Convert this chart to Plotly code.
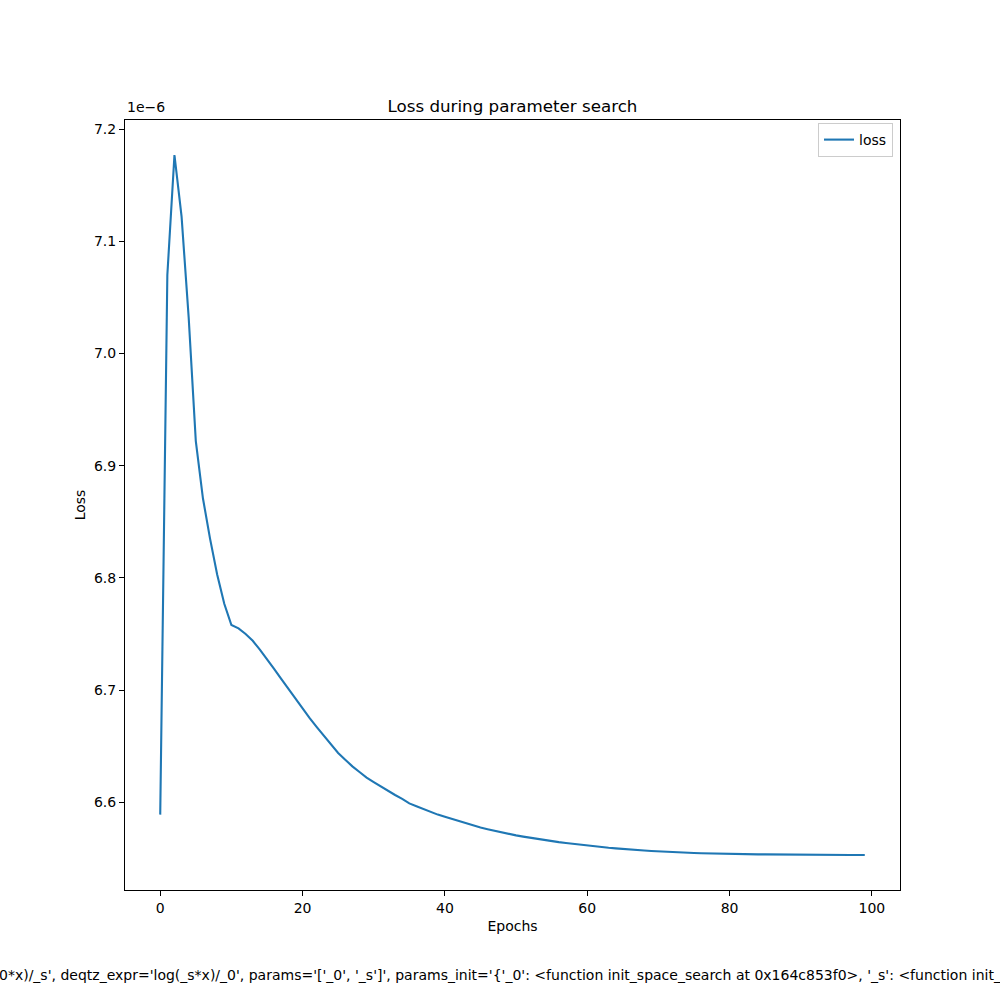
import plotly.graph_objects as go

epochs = list(range(100))
loss = [
    6.589, 7.070, 7.177, 7.122, 7.032, 6.922, 6.871, 6.835, 6.803, 6.777,
    6.758, 6.755, 6.750, 6.744, 6.736, 6.728, 6.719, 6.710, 6.701, 6.692,
    6.683, 6.675, 6.667, 6.659, 6.651, 6.644, 6.638, 6.632, 6.627, 6.622,
    6.618, 6.614, 6.610, 6.6065, 6.603, 6.599, 6.5965, 6.594, 6.591, 6.589,
    6.587, 6.585, 6.583, 6.581, 6.579, 6.5775, 6.576, 6.5745, 6.573, 6.572,
    6.5705, 6.5694, 6.5683, 6.5673, 6.5663, 6.5654, 6.5645, 6.5637, 6.5629, 6.5621,
    6.5614, 6.5607, 6.5600, 6.5594, 6.5589, 6.5583, 6.5578, 6.5574, 6.5570, 6.5566,
    6.5562, 6.5559, 6.5556, 6.5553, 6.5551, 6.5548, 6.5546, 6.5544, 6.5542, 6.5541,
    6.5540, 6.5539, 6.5538, 6.5537, 6.5536, 6.5536, 6.5535, 6.5535, 6.5534, 6.5534,
    6.5533, 6.5533, 6.5532, 6.5532, 6.5531, 6.5531, 6.5531, 6.5530, 6.5530, 6.5530,
]
x_ticks = [0, 20, 40, 60, 80, 100]
y_ticks = [6.6, 6.7, 6.8, 6.9, 7.0, 7.1, 7.2]
title = "Loss during parameter search"
footer = ("_0*x)/_s', deqtz_expr='log(_s*x)/_0', params='['_0', '_s']', "
          "params_init='{'_0': <function init_space_search at 0x164c853f0>, "
          "'_s': <function init_lin_search at 0x164c85480>}'")

FONT = "DejaVu Sans"
fig = go.Figure()
fig.add_trace(go.Scatter(x=epochs, y=loss, mode="lines", name="loss",
                         line=dict(color="#1f77b4", width=2.1)))

axis_common = dict(showline=True, linecolor="black", linewidth=1, mirror=True,
                   ticks="outside", ticklen=5, tickwidth=1, tickcolor="black",
                   showgrid=False, zeroline=False,
                   tickfont=dict(family=FONT, size=14, color="black"))

fig.update_layout(
    width=1000, height=1000,
    margin=dict(l=0, r=0, t=0, b=0),
    paper_bgcolor="white", plot_bgcolor="white",
    font=dict(family=FONT, size=14, color="black"),
    title=dict(text=title, x=0.5125, xanchor="center", y=0.894, yanchor="middle",
               font=dict(family=FONT, size=16.7, color="black")),
    xaxis=dict(domain=[0.125, 0.9], range=[-4.95, 103.95], tickvals=x_ticks,
               title=dict(text="Epochs", standoff=6, font=dict(family=FONT, size=14)),
               **axis_common),
    yaxis=dict(domain=[0.11, 0.88], range=[6.5218, 7.2082], tickvals=y_ticks,
               tickformat=".1f",
               title=dict(text="Loss", standoff=5, font=dict(family=FONT, size=14)),
               **axis_common),
    legend=dict(x=0.893, xanchor="right", y=0.877, yanchor="top",
                bordercolor="#cccccc", borderwidth=1, bgcolor="rgba(255,255,255,0.8)",
                font=dict(family=FONT, size=14, color="black")),
    showlegend=True,
)

fig.add_annotation(text="1e\u22126", xref="paper", yref="paper", x=0.125, y=0.883,
                   xanchor="left", yanchor="bottom", showarrow=False,
                   font=dict(family=FONT, size=14, color="black"))
fig.add_annotation(text=footer, xref="paper", yref="paper", x=-0.011, y=0.025,
                   xanchor="left", yanchor="middle", showarrow=False,
                   font=dict(family=FONT, size=14, color="black"))

fig.write_html("out.html")
